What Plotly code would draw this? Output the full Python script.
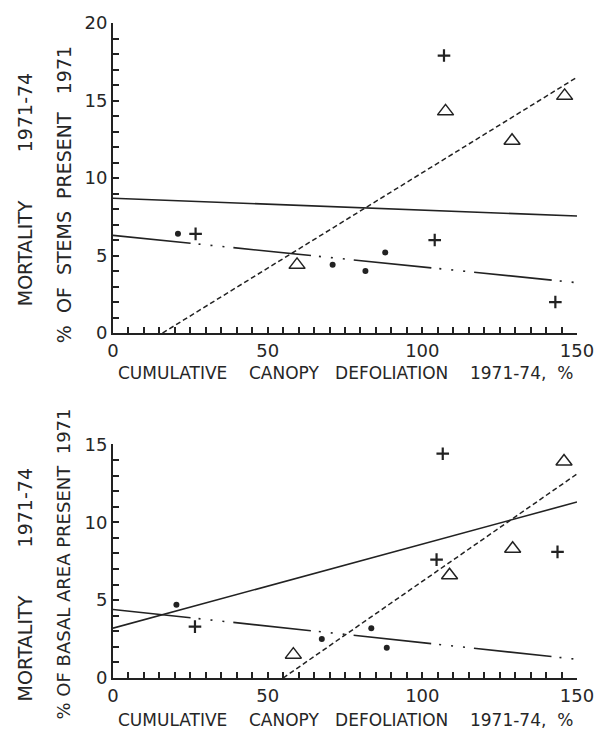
import plotly.graph_objects as go

# ---------------- data ----------------
# Top panel: mortality as % of stems present 1971
top_dot_x = [21, 71, 81.6, 88]
top_dot_y = [6.4, 4.4, 4.0, 5.2]
top_plus_x = [26.7, 104, 107, 143]
top_plus_y = [6.4, 6.0, 17.9, 2.0]
top_tri_x = [59.5, 107.5, 129, 146]
top_tri_y = [4.4, 14.3, 12.4, 15.3]
top_solid_x = [0, 150]
top_solid_y = [8.7, 7.55]
top_dashdot_x = [0, 150]
top_dashdot_y = [6.3, 3.25]
top_dash_x = [16, 150]
top_dash_y = [0, 16.5]

# Bottom panel: mortality as % of basal area present 1971
bot_dot_x = [20.5, 67.5, 83.5, 88.5]
bot_dot_y = [4.7, 2.5, 3.2, 1.95]
bot_plus_x = [26.5, 104.6, 106.6, 143.7]
bot_plus_y = [3.3, 7.6, 14.4, 8.1]
bot_tri_x = [58.3, 108.8, 129.2, 145.8]
bot_tri_y = [1.5, 6.6, 8.3, 13.9]
bot_solid_x = [0, 150]
bot_solid_y = [3.2, 11.3]
bot_dashdot_x = [0, 150]
bot_dashdot_y = [4.4, 1.2]
bot_dash_x = [55, 150]
bot_dash_y = [0, 13.1]

x_range = [0, 150]
top_y_range = [0, 20]
bot_y_range = [0, 15]

x_title = "CUMULATIVE\u00a0\u00a0\u00a0\u00a0CANOPY\u00a0\u00a0\u00a0DEFOLIATION\u00a0\u00a0\u00a0\u00a01971-74,\u00a0\u00a0%"
outer_title = "MORTALITY" + "\u00a0" * 8 + "1971-74"
top_inner_title = "%\u00a0\u00a0OF\u00a0\u00a0STEMS\u00a0\u00a0PRESENT\u00a0\u00a0\u00a01971"
bot_inner_title = "%\u00a0OF\u00a0BASAL\u00a0AREA\u00a0PRESENT\u00a0\u00a01971"

INK = "#222222"
TXT = "#262626"
FONT = "DejaVu Sans"
DASHDOT = "78px,8px,2px,10px,2px,10px,2px,9px"
DASH = "5px,3px"

fig = go.Figure()


def add_panel(xa, ya, dx, dy, px, py, tx, ty, sx, sy, ddx, ddy, dsx, dsy):
    kw = dict(xaxis=xa, yaxis=ya, showlegend=False, hoverinfo="skip")
    fig.add_trace(go.Scatter(x=sx, y=sy, mode="lines",
                             line=dict(color=INK, width=1.6), **kw))
    fig.add_trace(go.Scatter(x=ddx, y=ddy, mode="lines",
                             line=dict(color=INK, width=1.6, dash=DASHDOT), **kw))
    fig.add_trace(go.Scatter(x=dsx, y=dsy, mode="lines",
                             line=dict(color=INK, width=1.5, dash=DASH), **kw))
    fig.add_trace(go.Scatter(x=dx, y=dy, mode="markers",
                             marker=dict(symbol="circle", size=6, color=INK), **kw))
    fig.add_trace(go.Scatter(x=px, y=py, mode="markers",
                             marker=dict(symbol="cross-thin", size=9,
                                         line=dict(color=INK, width=2.2)), **kw))
    fig.add_trace(go.Scatter(x=tx, y=ty, mode="markers",
                             marker=dict(symbol="triangle-up-open", size=14, color=INK,
                                         line=dict(color=INK, width=1.5)), **kw))


add_panel("x", "y", top_dot_x, top_dot_y, top_plus_x, top_plus_y, top_tri_x, top_tri_y,
          top_solid_x, top_solid_y, top_dashdot_x, top_dashdot_y, top_dash_x, top_dash_y)
add_panel("x2", "y2", bot_dot_x, bot_dot_y, bot_plus_x, bot_plus_y, bot_tri_x, bot_tri_y,
          bot_solid_x, bot_solid_y, bot_dashdot_x, bot_dashdot_y, bot_dash_x, bot_dash_y)

tickfont = dict(family=FONT, size=18, color=TXT)


def xaxis(anchor):
    return dict(range=x_range, domain=[0, 1], anchor=anchor, showgrid=False, zeroline=False,
                showline=True, linecolor=INK, linewidth=2,
                ticks="inside", ticklen=6, tickwidth=1.5, tickcolor=INK,
                tick0=0, dtick=50, tickfont=tickfont,
                minor=dict(dtick=5, ticks="inside", ticklen=6, tickwidth=1.5, tickcolor=INK))


def yaxis(anchor, rng, domain):
    return dict(range=rng, domain=domain, anchor=anchor, showgrid=False, zeroline=False,
                showline=True, linecolor=INK, linewidth=2,
                ticks="inside", ticklen=6, tickwidth=1.5, tickcolor=INK,
                tick0=0, dtick=5, tickfont=tickfont,
                minor=dict(dtick=1, ticks="inside", ticklen=6, tickwidth=1.5, tickcolor=INK))


L, R, T, B = 113, 31, 20, 52
W, H = 608, 730
PW, PH = W - L - R, H - T - B


def pxx(px):
    return (px - L) / PW


def pxy(py):
    return (H - B - py) / PH


fig.update_layout(
    width=W, height=H,
    margin=dict(l=L, r=R, t=T, b=B),
    paper_bgcolor="white", plot_bgcolor="white",
    xaxis=xaxis("y"),
    yaxis=yaxis("x", top_y_range, [pxy(331.5), 1.0]),
    xaxis2=xaxis("y2"),
    yaxis2=yaxis("x2", bot_y_range, [0.0, pxy(443.3)]),
)

ann_font_h = dict(family=FONT, size=17, color=TXT)
ann_font_v = dict(family=FONT, size=19, color=TXT)
ann_font_v2 = dict(family=FONT, size=18, color=TXT)
annots = [
    dict(text=x_title, x=pxx(345), y=pxy(372), font=ann_font_h, textangle=0),
    dict(text=x_title, x=pxx(345), y=pxy(720), font=ann_font_h, textangle=0),
    dict(text=outer_title, x=pxx(25), y=pxy(188), font=ann_font_v, textangle=-90),
    dict(text=top_inner_title, x=pxx(64), y=pxy(193), font=ann_font_v, textangle=-90),
    dict(text=outer_title, x=pxx(25), y=pxy(585), font=ann_font_v, textangle=-90),
    dict(text=bot_inner_title, x=pxx(64), y=pxy(564), font=ann_font_v2, textangle=-90),
]
for a in annots:
    fig.add_annotation(xref="paper", yref="paper", showarrow=False,
                       xanchor="center", yanchor="middle", **a)

fig.write_html("out.html")
